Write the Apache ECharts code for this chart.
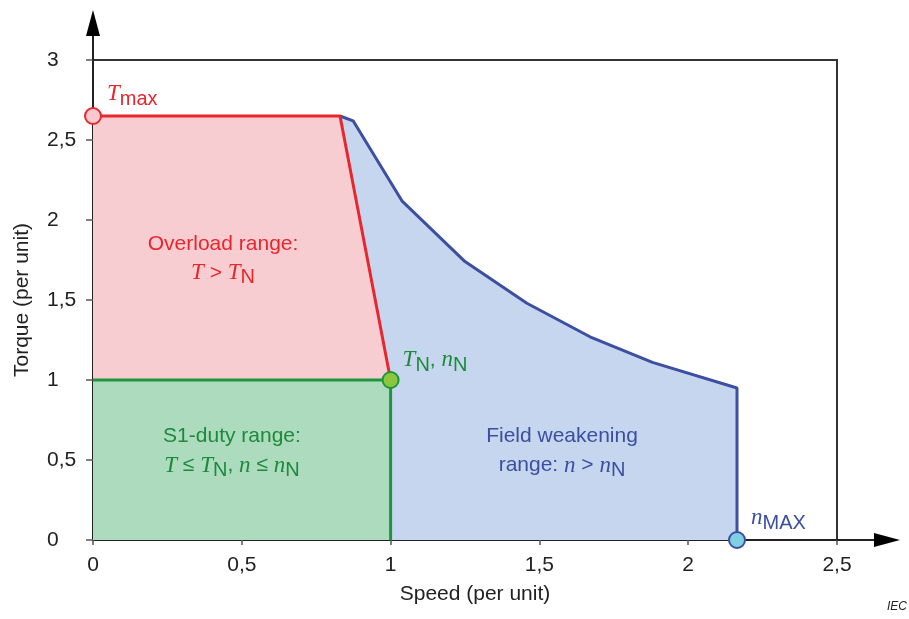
<!DOCTYPE html>
<html><head><meta charset="utf-8">
<script src="https://cdn.jsdelivr.net/npm/echarts@6/dist/echarts.min.js"></script>
<style>html,body{margin:0;padding:0;background:#fff}#c{width:909px;height:619px}</style>
</head><body><div id="c"></div>
<script>
// ---- data ----
const xTicks = [0, 0.5, 1, 1.5, 2, 2.5];
const yTicks = [0, 0.5, 1, 1.5, 2, 2.5, 3];
const overloadX = [0, 0.83, 1];
const overloadY = [2.65, 2.65, 1];
const s1X = [0, 1, 1];
const s1Y = [1, 1, 0];
const fieldX = [0.83, 0.874, 1.038, 1.25, 1.458, 1.67, 1.88, 2.164, 2.164];
const fieldY = [2.65, 2.62, 2.12, 1.74, 1.48, 1.27, 1.11, 0.95, 0];
const pointNames = ['Tmax', 'TN', 'nMAX'];
const pointX = [0, 1, 2.164];
const pointY = [2.65, 1, 0];

// ---- styles ----
const RED = '#e8262d', RED_FILL = '#f8cdd1';
const BLUE = '#3c4fa3', BLUE_FILL = '#c5d6ee';
const GREEN = '#1f963e', GREEN_FILL = '#acdbbe';
const GREEN_TXT = '#1d8a3a', BLUE_TXT = '#3b4fa2';
const AX = '#222';
const SANS = '"Liberation Sans", Arial, sans-serif';
const SERIF = '"Liberation Serif", "Times New Roman", serif';

const pairs = (xs, ys) => xs.map((x, i) => [x, ys[i]]);
const fmt = v => String(v).replace('.', ',');

function rich(color) {
  return {
    a: { fontFamily: SANS, fontSize: 21, fill: color, lineHeight: 29 },
    i: { fontFamily: SERIF, fontStyle: 'italic', fontSize: 23, fill: color, lineHeight: 29 },
    s: { fontFamily: SANS, fontSize: 20, fill: color, lineHeight: 29, padding: [10, 0, 0, 0] }
  };
}

const chart = echarts.init(document.getElementById('c'), null, { renderer: 'canvas' });

const pointStyles = [
  { color: '#f9c9cd', borderColor: RED },
  { color: '#8cc63f', borderColor: GREEN },
  { color: '#7fd0e2', borderColor: BLUE }
];

chart.setOption({
  animation: false,
  backgroundColor: '#fff',
  grid: { left: 93, top: 60, right: 72, bottom: 79, show: true, borderColor: '#333', borderWidth: 2, backgroundColor: 'transparent' },
  xAxis: {
    type: 'value', min: 0, max: 2.5, interval: 0.5,
    axisLine: { show: true, onZero: false, lineStyle: { color: AX, width: 2 } },
    axisTick: { show: true, length: 5, lineStyle: { color: '#555', width: 1.5 } },
    axisLabel: { formatter: fmt, fontSize: 21, fontFamily: SANS, color: '#222', margin: 15 },
    splitLine: { show: false },
    name: 'Speed (per unit)', nameLocation: 'middle', nameGap: 44,
    nameTextStyle: { fontSize: 21, fontFamily: SANS, color: '#222', padding: [0, 0, 0, 20] }
  },
  yAxis: {
    type: 'value', min: 0, max: 3, interval: 0.5,
    axisLine: { show: true, onZero: false, lineStyle: { color: AX, width: 2 } },
    axisTick: { show: true, length: 7, lineStyle: { color: '#555', width: 1.5 } },
    axisLabel: { formatter: fmt, fontSize: 21, fontFamily: SANS, color: '#222', margin: 46, align: 'left' },
    splitLine: { show: false },
    name: 'Torque (per unit)', nameLocation: 'middle', nameGap: 60,
    nameTextStyle: { fontSize: 21, fontFamily: SANS, color: '#222' }
  },
  series: [
    { type: 'line', data: pairs(fieldX, fieldY), showSymbol: false, z: 2,
      lineStyle: { color: BLUE, width: 3 }, areaStyle: { color: BLUE_FILL, opacity: 1 } },
    { type: 'line', data: pairs(overloadX, overloadY), showSymbol: false, z: 3,
      lineStyle: { color: RED, width: 3 }, areaStyle: { color: RED_FILL, opacity: 1 } },
    { type: 'line', data: pairs(s1X, s1Y), showSymbol: false, z: 4,
      lineStyle: { color: GREEN, width: 3 }, areaStyle: { color: GREEN_FILL, opacity: 1 } },
    { type: 'scatter', z: 10, symbolSize: 16,
      data: pointNames.map((n, i) => ({ name: n, value: [pointX[i], pointY[i]],
        itemStyle: Object.assign({ borderWidth: 2, opacity: 1 }, pointStyles[i]) })) }
  ]
});

// arrows & annotations positioned from data coordinates
const P = (x, y) => chart.convertToPixel({ gridIndex: 0 }, [x, y]);
const o = P(0, 0), xe = P(2.5, 0), ye = P(0, 3);
const graphics = [
  { type: 'line', shape: { x1: o[0], y1: ye[1], x2: o[0], y2: ye[1] - 26 }, style: { stroke: AX, lineWidth: 2 }, z: 20 },
  { type: 'polygon', shape: { points: [[o[0], ye[1] - 50], [o[0] - 7, ye[1] - 24], [o[0] + 7, ye[1] - 24]] }, style: { fill: '#000' }, z: 20 },
  { type: 'line', shape: { x1: xe[0], y1: o[1], x2: xe[0] + 38, y2: o[1] }, style: { stroke: AX, lineWidth: 2 }, z: 20 },
  { type: 'polygon', shape: { points: [[xe[0] + 63, o[1]], [xe[0] + 37, o[1] - 7], [xe[0] + 37, o[1] + 7]] }, style: { fill: '#000' }, z: 20 }
];

function txt(anchor, dx, dy, text, r, align) {
  const p = P(anchor[0], anchor[1]);
  graphics.push({ type: 'text', x: p[0] + dx, y: p[1] + dy, z: 30,
    style: { text: text, rich: r, align: align || 'center', verticalAlign: 'middle' } });
}
txt([0.437, 1.76], 0, 0, '{a|Overload range:}\n{i|T}{a| > }{i|T}{s|N}', rich(RED));
txt([0.467, 0.556], 0, 0, '{a|S1-duty range:}\n{i|T}{a| ≤ }{i|T}{s|N}{a|, }{i|n}{a| ≤ }{i|n}{s|N}', rich(GREEN_TXT));
txt([1.576, 0.556], 0, 0, '{a|Field weakening}\n{a|range: }{i|n}{a| > }{i|n}{s|N}', rich(BLUE_TXT));
txt([pointX[0], pointY[0]], 14, -22, '{i|T}{s|max}', rich(RED), 'left');
txt([pointX[1], pointY[1]], 12, -20, '{i|T}{s|N}{a|, }{i|n}{s|N}', rich(GREEN_TXT), 'left');
txt([pointX[2], pointY[2]], 14, -22, '{i|n}{s|MAX}', rich(BLUE_TXT), 'left');
graphics.push({ type: 'text', right: 2, top: 601, z: 30,
  style: { text: 'IEC', font: 'italic 12px ' + SANS, fill: '#222' } });

chart.setOption({ graphic: graphics });
</script>
</body></html>
